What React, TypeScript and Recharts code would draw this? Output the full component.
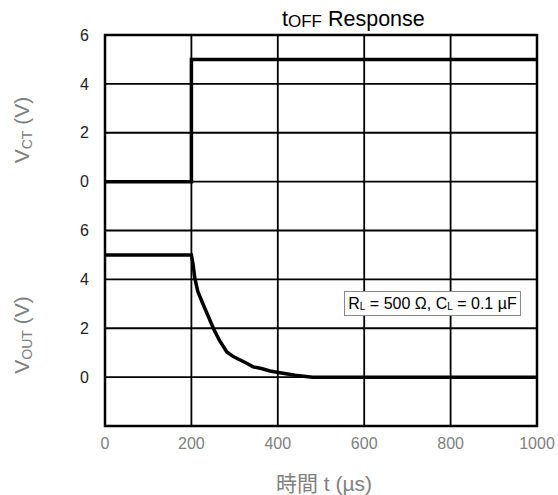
import {CartesianGrid, Line, LineChart, ReferenceArea, XAxis, YAxis} from 'recharts';

// time axis (µs) and the two traces
const timeTicks = [0, 200, 400, 600, 800, 1000];
const voltTicks = [0, 2, 4, 6];

const vctTime = [0, 200, 200, 1000];
const vctVolts = [0, 0, 5, 5];

const voutTime = [0, 200, 204, 208, 215, 228, 240, 251, 265, 282, 298, 313, 330, 343, 362, 382, 405, 440, 480, 1000];
const voutVolts = [5, 5, 4.6, 4.04, 3.5, 2.94, 2.45, 1.99, 1.5, 1.03, 0.83, 0.7, 0.55, 0.42, 0.35, 0.25, 0.18, 0.08, 0, 0];

// the V_CT panel sits on top of the V_OUT panel, shifted up by 8 V on the shared axis
const PANEL_OFFSET = 8;

const vctData = vctTime.map((t, i) => ({t, v: vctVolts[i] + PANEL_OFFSET}));
const voutData = voutTime.map((t, i) => ({t, v: voutVolts[i]}));
const yTicks = [...voltTicks, ...voltTicks.map(v => v + PANEL_OFFSET)];

const grey = '#808080';
const font = '"Liberation Sans", Arial, sans-serif';

const sub = (size: number, drop: number) => ({fontSize: size, position: 'relative' as const, top: drop});

export default function App() {
  return (
    <div style={{position: 'absolute', left: 0, top: 0, width: 558, height: 495, background: '#fff', fontFamily: font}}>
      <LineChart width={558} height={495} margin={{top: 35, right: 21, left: 0, bottom: 0}}>
        <CartesianGrid stroke="#000" strokeWidth={1.8} />
        <XAxis
          dataKey="t"
          type="number"
          domain={[0, 1000]}
          ticks={timeTicks}
          height={69}
          axisLine={false}
          tickLine={false}
          tickSize={6}
          tickMargin={6}
          tick={{fill: grey, fontSize: 16, fontFamily: font}}
          allowDuplicatedCategory={false}
        />
        <YAxis
          type="number"
          domain={[-2, 14]}
          ticks={yTicks}
          width={105}
          axisLine={false}
          tickLine={false}
          tickSize={6}
          tickMargin={10}
          tickFormatter={(v: number) => String(v >= PANEL_OFFSET ? v - PANEL_OFFSET : v)}
          tick={{fill: '#222', fontSize: 16, fontFamily: font}}
        />
        <ReferenceArea x1={0} x2={1000} y1={-2} y2={14} fill="none" stroke="#000" strokeWidth={2.5} />
        <Line data={vctData} dataKey="v" type="linear" stroke="#000" strokeWidth={3.5} dot={false} isAnimationActive={false} />
        <Line data={voutData} dataKey="v" type="linear" stroke="#000" strokeWidth={3.5} dot={false} isAnimationActive={false} />
      </LineChart>

      <div style={{position: 'absolute', left: 282, top: 9, fontSize: 21.5, lineHeight: '20px', color: '#000', whiteSpace: 'nowrap'}}>
        t<span style={sub(17, 1)}>OFF</span> Response
      </div>

      <div style={{position: 'absolute', left: 22, top: 130, transform: 'translate(-50%, -50%) rotate(-90deg)', fontSize: 21, color: grey, whiteSpace: 'nowrap'}}>
        V<span style={sub(14, 3)}>CT</span> (V)
      </div>
      <div style={{position: 'absolute', left: 22, top: 335, transform: 'translate(-50%, -50%) rotate(-90deg)', fontSize: 21, color: grey, whiteSpace: 'nowrap'}}>
        V<span style={sub(14, 3)}>OUT</span> (V)
      </div>

      <div style={{position: 'absolute', left: 324, top: 482, transform: 'translate(-50%, -50%)', fontSize: 21, color: grey, whiteSpace: 'nowrap', fontFamily: '"Liberation Sans", "Noto Sans CJK JP", sans-serif'}}>
        時間 t (µs)
      </div>

      <div style={{position: 'absolute', left: 344, top: 291, width: 177, height: 25, boxSizing: 'border-box', border: '1px solid #888', background: '#fff', fontSize: 16, color: '#000', display: 'flex', alignItems: 'center', justifyContent: 'center', whiteSpace: 'nowrap'}}>
        R<span style={sub(10, 3)}>L</span>&nbsp;= 500 Ω, C<span style={sub(10, 3)}>L</span>&nbsp;= 0.1 µF
      </div>
    </div>
  );
}
